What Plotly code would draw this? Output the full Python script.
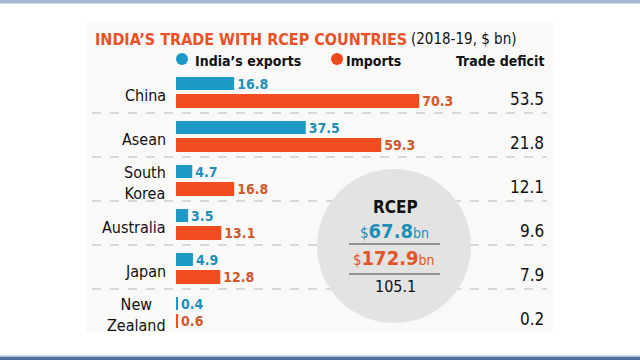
import plotly.graph_objects as go

# ---------------- data ----------------
countries = ["China", "Asean", "South<br>Korea", "Australia", "Japan", "New<br>Zealand"]
exports = [16.8, 37.5, 4.7, 3.5, 4.9, 0.4]
imports = [70.3, 59.3, 16.8, 13.1, 12.8, 0.6]
deficit = [53.5, 21.8, 12.1, 9.6, 7.9, 0.2]
rcep_exports = 67.8
rcep_imports = 172.9
rcep_deficit = 105.1

title_text = "INDIA’S TRADE WITH RCEP COUNTRIES"
subtitle_text = "(2018-19, $ bn)"

# ---------------- styling / geometry ----------------
W, H = 640, 360
FONT = "DejaVu Sans Condensed, Liberation Sans Narrow, Roboto, sans-serif"
BLUE = "#1d9ac6"
ORANGE = "#f24d20"
BLUE_TXT = "#1f8fba"
ORANGE_TXT = "#d1582c"
TITLE_C = "#ea5128"

X0_PX = 176.0      # pixel of value 0
K = 3.46           # pixels per $bn
ROW_TOP = 69.0     # pixel of first row top
ROW_H = 44.0       # pixels per row

def px(x):
    return x / W

def py(y):
    return 1 - y / H

n = len(countries)
fig = go.Figure()

exp_y = [i + 14.5 / ROW_H for i in range(n)]
imp_y = [i + 32.0 / ROW_H for i in range(n)]

fig.add_trace(go.Bar(
    orientation="h", x=exports, y=exp_y, width=[13 / ROW_H] * n,
    marker=dict(color=BLUE, line=dict(width=0)),
    text=[f"{v:.1f}" for v in exports], textposition="outside", constraintext="none",
    textfont=dict(family=FONT, size=14, color=BLUE_TXT, weight="bold"),
    cliponaxis=False, hoverinfo="skip", name="India's exports",
))
fig.add_trace(go.Bar(
    orientation="h", x=imports, y=imp_y, width=[14 / ROW_H] * n,
    marker=dict(color=ORANGE, line=dict(width=0)),
    text=[f"{v:.1f}" for v in imports], textposition="outside", constraintext="none",
    textfont=dict(family=FONT, size=14, color=ORANGE_TXT, weight="bold"),
    cliponaxis=False, hoverinfo="skip", name="Imports",
))

shapes = []
# frame bands
shapes.append(dict(type="rect", xref="paper", yref="paper", x0=0, x1=1, y0=py(3.5), y1=1,
                   fillcolor="#a9b7d0", line=dict(width=0), layer="below"))
shapes.append(dict(type="rect", xref="paper", yref="paper", x0=0, x1=1, y0=py(357), y1=py(355.5),
                   fillcolor="#a9bdd6", line=dict(width=0), layer="below"))
shapes.append(dict(type="rect", xref="paper", yref="paper", x0=0, x1=1, y0=0, y1=py(357),
                   fillcolor="#50709c", line=dict(width=0), layer="below"))
# light panel
shapes.append(dict(type="rect", xref="paper", yref="paper", x0=px(86), x1=px(553), y0=py(332), y1=py(22),
                   fillcolor="#f9f9f8", line=dict(width=0), layer="below"))
# dashed separators
for i in range(1, n):
    shapes.append(dict(type="line", xref="paper", yref="y", x0=px(92), x1=px(547), y0=i, y1=i,
                       line=dict(color="#b5b5b5", width=1, dash="dash"), layer="below"))
# RCEP circle
shapes.append(dict(type="circle", xref="paper", yref="paper", x0=px(317), x1=px(471),
                   y0=py(323), y1=py(169), fillcolor="#e3e3e1", line=dict(width=0), layer="above"))
for yy in (244, 274):
    shapes.append(dict(type="line", xref="paper", yref="paper", x0=px(349), x1=px(440),
                       y0=py(yy), y1=py(yy), line=dict(color="#7a7a7a", width=1.5)))
# legend dots
for cx, col in ((182, "#1b97c6"), (337, "#f0461c")):
    shapes.append(dict(type="circle", xref="paper", yref="paper", x0=px(cx - 6), x1=px(cx + 6),
                       y0=py(59 + 6), y1=py(59 - 6), fillcolor=col, line=dict(width=0)))

ann = []
def A(x, y, text, size, color="#111", xanchor="left", bold=False, xref="paper", yref="paper"):
    t = f"<b>{text}</b>" if bold else text
    ann.append(dict(x=x, y=y, xref=xref, yref=yref, text=t, showarrow=False,
                    xanchor=xanchor, yanchor="middle",
                    font=dict(family=FONT, size=size, color=color)))

A(px(93), py(39), title_text, 16, TITLE_C, bold=True)
A(px(409), py(39), subtitle_text, 15, "#111")
A(px(193), py(61), "India’s exports", 14, "#111", bold=True)
A(px(344), py(61), "Imports", 14, "#111", bold=True)
A(px(546), py(61), "Trade deficit", 14, "#111", xanchor="right", bold=True)

for i, c in enumerate(countries):
    A(px(168), i + 26 / ROW_H, c, 16, "#111", xanchor="right", yref="y")
for i, d in enumerate(deficit):
    A(px(546), i + 30 / ROW_H, f"{d:.1f}", 17, "#111", xanchor="right", yref="y")

# RCEP totals
A(px(395), py(207), "RCEP", 17, "#111", xanchor="center", bold=True)
A(px(394), py(231),
  f"<span style='font-size:15px'>$</span><b>{rcep_exports:.1f}</b><span style='font-size:14px'>bn</span>",
  20, BLUE_TXT, xanchor="center")
A(px(394), py(258),
  f"<span style='font-size:15px'>$</span><b>{rcep_imports:.1f}</b><span style='font-size:14px'>bn</span>",
  20, "#e0552a", xanchor="center")
A(px(395), py(286), f"{rcep_deficit:.1f}", 16, "#111", xanchor="center")

fig.update_layout(
    width=W, height=H, margin=dict(l=0, r=0, t=0, b=0),
    paper_bgcolor="white", plot_bgcolor="rgba(0,0,0,0)",
    showlegend=False, barmode="overlay",
    xaxis=dict(range=[-X0_PX / K, (W - X0_PX) / K], visible=False, fixedrange=True),
    yaxis=dict(range=[(H - ROW_TOP) / ROW_H, -ROW_TOP / ROW_H], visible=False, fixedrange=True),
    shapes=shapes, annotations=ann, uniformtext=dict(mode=False),
)

fig.write_html("out.html", config={"displayModeBar": False},
               post_script="document.body.style.margin='0';document.body.style.overflow='hidden';")
